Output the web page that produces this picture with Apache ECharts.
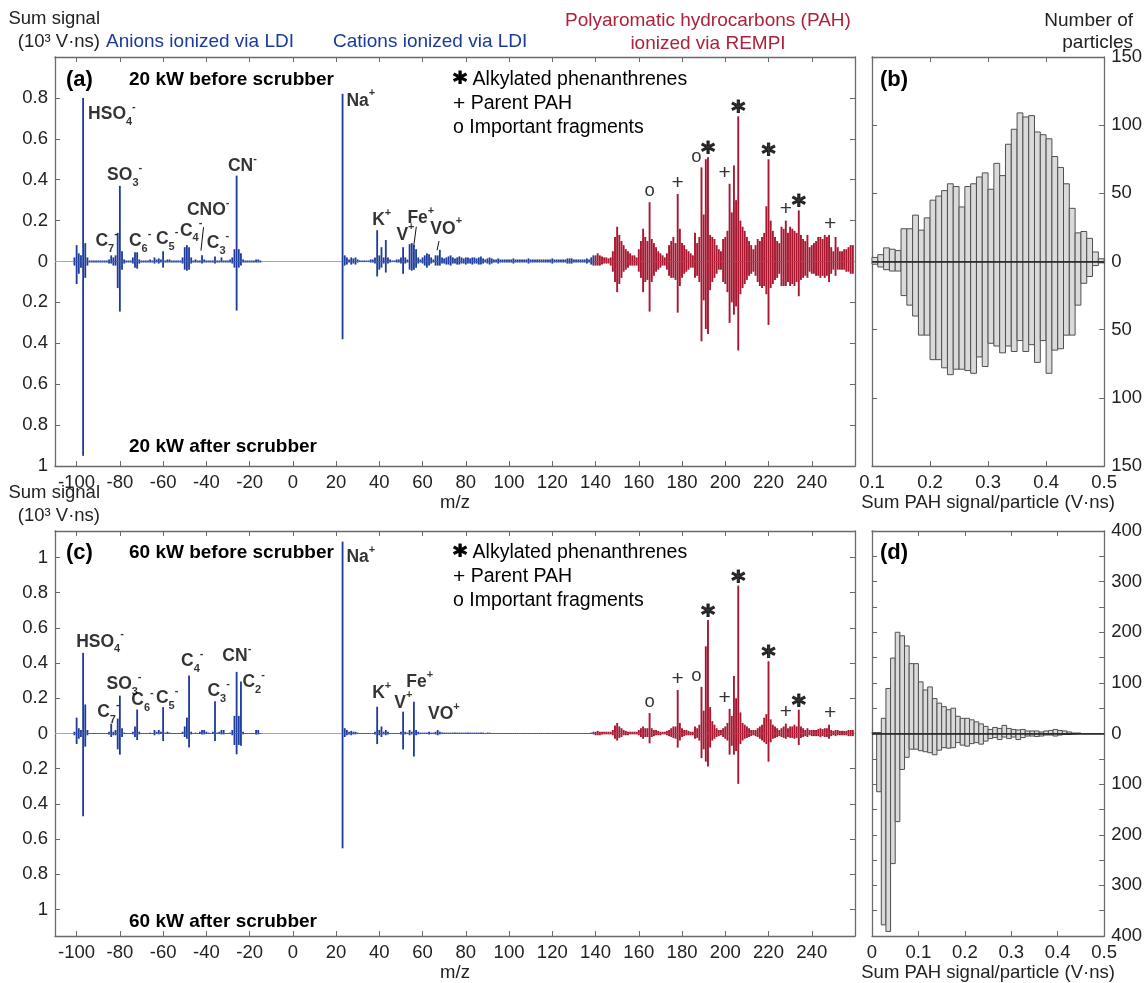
<!DOCTYPE html>
<html>
<head>
<meta charset="utf-8">
<script src="https://cdn.jsdelivr.net/npm/echarts@6/dist/echarts.min.js"></script>
<style>
  html, body { margin: 0; padding: 0; background: #fff; }
  #chart { width: 1145px; height: 983px; }
</style>
</head>
<body>
<div id="chart"></div>
<script>
// ---------------------------------------------------------------------------
// Mass spectra: sum signal (10^3 V·ns) per integer m/z.
// Anions are plotted at negative m/z. "TOP" = before scrubber, "BOT" = after.
// ---------------------------------------------------------------------------
const ANION_FIRST_MZ = -101;   // arrays below run from m/z -101 to -15
const CATION_FIRST_MZ = 23;    // arrays below run from m/z 23 to 139
const PAH_FIRST_MZ = 140;      // arrays below run from m/z 140 to 259

// 20 kW
const A_TOP_ANION = [
  0.02, 0.08, 0.04, 0.03, 0.80, 0.09, 0.02, 0.005, 0.005, 0.005,
  0.005, 0.005, 0.005, 0.005, 0.005, 0.005, 0.01, 0.03, 0.02, 0.03,
  0.14, 0.37, 0.05, 0.01, 0.005, 0.005, 0.005, 0.02, 0.045, 0.045,
  0.01, 0.005, 0.005, 0.005, 0.005, 0.01, 0.005, 0.02, 0.01, 0.015,
  0.01, 0.05, 0.005, 0.01, 0.01, 0.005, 0.005, 0.005, 0.005, 0.005,
  0.02, 0.07, 0.08, 0.07, 0.02, 0.005, 0.01, 0.005, 0.005, 0.03,
  0.01, 0.005, 0.005, 0.005, 0.005, 0.025, 0.005, 0.005, 0.02, 0.005,
  0.005, 0.005, 0.01, 0.02, 0.06, 0.42, 0.06, 0.04, 0.01, 0.005,
  0.005, 0.005, 0.005, 0.005, 0.01, 0.01, 0.005
];
const A_BOT_ANION = [
  0.02, 0.11, 0.06, 0.03, 0.95, 0.08, 0.02, 0.005, 0.005, 0.005,
  0.005, 0.005, 0.005, 0.005, 0.005, 0.005, 0.01, 0.01, 0.02, 0.02,
  0.13, 0.245, 0.04, 0.01, 0.005, 0.005, 0.005, 0.01, 0.03, 0.035,
  0.01, 0.005, 0.005, 0.005, 0.005, 0.005, 0.005, 0.01, 0.005, 0.01,
  0.005, 0.03, 0.005, 0.005, 0.005, 0.005, 0.005, 0.005, 0.005, 0.005,
  0.01, 0.04, 0.045, 0.04, 0.01, 0.005, 0.005, 0.005, 0.005, 0.01,
  0.005, 0.005, 0.005, 0.005, 0.005, 0.01, 0.005, 0.005, 0.005, 0.005,
  0.005, 0.005, 0.005, 0.01, 0.03, 0.24, 0.03, 0.02, 0.005, 0.005,
  0.005, 0.005, 0.005, 0.005, 0.005, 0.005, 0.005
];
const A_TOP_CATION = [
  0.82, 0.03, 0.02, 0.01, 0.02, 0.015, 0.02, 0.01, 0.005, 0.005,
  0.005, 0.005, 0.005, 0.01, 0.01, 0.02, 0.153, 0.03, 0.07, 0.02,
  0.105, 0.02, 0.01, 0.005, 0.005, 0.01, 0.01, 0.02, 0.07, 0.02,
  0.01, 0.085, 0.09, 0.08, 0.06, 0.02, 0.01, 0.02, 0.03, 0.04,
  0.035, 0.02, 0.01, 0.03, 0.03, 0.057, 0.02, 0.015, 0.02, 0.025,
  0.03, 0.02, 0.015, 0.02, 0.025, 0.02, 0.015, 0.02, 0.02, 0.015,
  0.02, 0.02, 0.015, 0.02, 0.025, 0.015, 0.01, 0.015, 0.02, 0.015,
  0.01, 0.01, 0.015, 0.01, 0.01, 0.01, 0.01, 0.01, 0.01, 0.015,
  0.01, 0.01, 0.01, 0.01, 0.01, 0.01, 0.015, 0.01, 0.01, 0.01,
  0.01, 0.01, 0.01, 0.01, 0.01, 0.01, 0.01, 0.015, 0.01, 0.01,
  0.01, 0.01, 0.01, 0.01, 0.015, 0.015, 0.015, 0.01, 0.01, 0.01,
  0.01, 0.01, 0.01, 0.015, 0.01, 0.02, 0.03
];
const A_BOT_CATION = [
  0.38, 0.02, 0.015, 0.005, 0.015, 0.01, 0.015, 0.005, 0.003, 0.003,
  0.003, 0.003, 0.003, 0.005, 0.005, 0.01, 0.073, 0.04, 0.03, 0.01,
  0.054, 0.01, 0.005, 0.003, 0.003, 0.005, 0.005, 0.01, 0.06, 0.01,
  0.005, 0.04, 0.045, 0.04, 0.03, 0.01, 0.005, 0.01, 0.02, 0.03,
  0.02, 0.01, 0.005, 0.02, 0.02, 0.02, 0.01, 0.01, 0.015, 0.015,
  0.02, 0.01, 0.01, 0.015, 0.015, 0.01, 0.01, 0.015, 0.01, 0.01,
  0.015, 0.01, 0.01, 0.015, 0.015, 0.01, 0.005, 0.01, 0.015, 0.01,
  0.005, 0.005, 0.01, 0.005, 0.005, 0.005, 0.005, 0.005, 0.005, 0.01,
  0.005, 0.005, 0.005, 0.005, 0.005, 0.005, 0.01, 0.005, 0.005, 0.005,
  0.005, 0.005, 0.005, 0.005, 0.005, 0.005, 0.005, 0.01, 0.005, 0.005,
  0.005, 0.005, 0.005, 0.005, 0.01, 0.01, 0.01, 0.005, 0.005, 0.005,
  0.005, 0.005, 0.005, 0.01, 0.005, 0.015, 0.02
];
const A_TOP_PAH = [
  0.03, 0.04, 0.03, 0.025, 0.02, 0.02, 0.015, 0.02, 0.05, 0.12,
  0.17, 0.13, 0.10, 0.08, 0.06, 0.05, 0.04, 0.03, 0.03, 0.02,
  0.06, 0.10, 0.16, 0.12, 0.10, 0.29, 0.11, 0.09, 0.07, 0.05,
  0.04, 0.03, 0.02, 0.04, 0.08, 0.10, 0.12, 0.09, 0.33, 0.16,
  0.09, 0.08, 0.06, 0.05, 0.04, 0.03, 0.14, 0.09, 0.12, 0.46,
  0.23, 0.50, 0.51, 0.13, 0.12, 0.11, 0.08, 0.06, 0.05, 0.11,
  0.12, 0.15, 0.38, 0.24, 0.47, 0.30, 0.71, 0.20, 0.17, 0.15,
  0.12, 0.10, 0.08, 0.06, 0.08, 0.11, 0.10, 0.12, 0.14, 0.27,
  0.50, 0.20, 0.15, 0.12, 0.10, 0.09, 0.17, 0.16, 0.20, 0.14,
  0.17, 0.16, 0.15, 0.14, 0.25, 0.13, 0.11, 0.10, 0.13, 0.07,
  0.08, 0.09, 0.10, 0.12, 0.12, 0.11, 0.13, 0.12, 0.13, 0.07,
  0.05, 0.12, 0.07, 0.05, 0.05, 0.06, 0.06, 0.07, 0.08, 0.08
];
const A_BOT_PAH = [
  0.02, 0.02, 0.02, 0.015, 0.01, 0.01, 0.01, 0.02, 0.05, 0.10,
  0.15, 0.11, 0.08, 0.05, 0.04, 0.03, 0.02, 0.02, 0.02, 0.02,
  0.05, 0.08, 0.15, 0.10, 0.09, 0.245, 0.10, 0.07, 0.05, 0.04,
  0.03, 0.02, 0.02, 0.04, 0.07, 0.08, 0.08, 0.09, 0.25, 0.12,
  0.08, 0.06, 0.05, 0.04, 0.03, 0.03, 0.08, 0.07, 0.10, 0.39,
  0.19, 0.33, 0.355, 0.14, 0.10, 0.08, 0.06, 0.04, 0.04, 0.10,
  0.11, 0.15, 0.30, 0.20, 0.26, 0.22, 0.435, 0.16, 0.13, 0.11,
  0.09, 0.07, 0.06, 0.05, 0.07, 0.10, 0.12, 0.13, 0.12, 0.16,
  0.31, 0.13, 0.11, 0.09, 0.08, 0.06, 0.12, 0.12, 0.12, 0.10,
  0.12, 0.11, 0.12, 0.10, 0.17, 0.09, 0.08, 0.07, 0.08, 0.05,
  0.06, 0.06, 0.07, 0.07, 0.08, 0.07, 0.08, 0.07, 0.10, 0.06,
  0.04, 0.07, 0.04, 0.04, 0.04, 0.04, 0.05, 0.05, 0.06, 0.06
];

// 60 kW
const C_TOP_ANION = [
  0.01, 0.09, 0.03, 0.02, 0.458, 0.165, 0.02, 0.003, 0.003, 0.003,
  0.003, 0.003, 0.003, 0.003, 0.003, 0.003, 0.01, 0.056, 0.01, 0.02,
  0.085, 0.215, 0.03, 0.005, 0.003, 0.003, 0.003, 0.01, 0.04, 0.136,
  0.01, 0.003, 0.003, 0.003, 0.003, 0.005, 0.003, 0.02, 0.01, 0.02,
  0.01, 0.15, 0.005, 0.01, 0.005, 0.003, 0.003, 0.003, 0.003, 0.003,
  0.01, 0.04, 0.09, 0.33, 0.01, 0.003, 0.005, 0.003, 0.01, 0.02,
  0.02, 0.01, 0.005, 0.003, 0.01, 0.183, 0.005, 0.01, 0.02, 0.02,
  0.003, 0.003, 0.005, 0.02, 0.10, 0.35, 0.10, 0.295, 0.01, 0.003,
  0.003, 0.003, 0.003, 0.003, 0.02, 0.02, 0.003
];
const C_BOT_ANION = [
  0.01, 0.06, 0.03, 0.02, 0.47, 0.075, 0.01, 0.003, 0.003, 0.003,
  0.003, 0.003, 0.003, 0.003, 0.003, 0.003, 0.005, 0.02, 0.01, 0.01,
  0.09, 0.12, 0.02, 0.003, 0.003, 0.003, 0.003, 0.005, 0.02, 0.037,
  0.005, 0.003, 0.003, 0.003, 0.003, 0.003, 0.003, 0.01, 0.003, 0.005,
  0.003, 0.043, 0.003, 0.003, 0.003, 0.003, 0.003, 0.003, 0.003, 0.003,
  0.003, 0.02, 0.03, 0.08, 0.005, 0.003, 0.003, 0.003, 0.003, 0.005,
  0.005, 0.003, 0.003, 0.003, 0.003, 0.043, 0.003, 0.003, 0.005, 0.005,
  0.003, 0.003, 0.003, 0.01, 0.065, 0.118, 0.065, 0.07, 0.005, 0.003,
  0.003, 0.003, 0.003, 0.003, 0.005, 0.005, 0.003
];
const C_TOP_CATION = [
  1.09, 0.03, 0.02, 0.01, 0.015, 0.01, 0.01, 0.005, 0.003, 0.003,
  0.003, 0.003, 0.003, 0.003, 0.003, 0.01, 0.152, 0.02, 0.04, 0.01,
  0.02, 0.01, 0.003, 0.003, 0.003, 0.003, 0.003, 0.01, 0.124, 0.01,
  0.005, 0.02, 0.01, 0.18, 0.02, 0.01, 0.005, 0.005, 0.005, 0.005,
  0.01, 0.005, 0.005, 0.01, 0.02, 0.01, 0.005, 0.005, 0.005, 0.005,
  0.005, 0.005, 0.005, 0.005, 0.005, 0.005, 0.005, 0.005, 0.005, 0.005,
  0.005, 0.005, 0.005, 0.005, 0.005, 0.005, 0.003, 0.005, 0.005, 0.003,
  0.003, 0.003, 0.003, 0.003, 0.003, 0.003, 0.003, 0.003, 0.003, 0.003,
  0.003, 0.003, 0.003, 0.003, 0.003, 0.003, 0.003, 0.003, 0.003, 0.003,
  0.003, 0.003, 0.003, 0.003, 0.003, 0.003, 0.003, 0.003, 0.003, 0.003,
  0.003, 0.003, 0.003, 0.003, 0.003, 0.003, 0.003, 0.003, 0.003, 0.003,
  0.003, 0.003, 0.003, 0.003, 0.003, 0.005, 0.01
];
const C_BOT_CATION = [
  0.652, 0.02, 0.01, 0.005, 0.01, 0.005, 0.005, 0.003, 0.003, 0.003,
  0.003, 0.003, 0.003, 0.003, 0.003, 0.005, 0.06, 0.01, 0.02, 0.005,
  0.01, 0.005, 0.003, 0.003, 0.003, 0.003, 0.003, 0.005, 0.09, 0.005,
  0.003, 0.01, 0.005, 0.13, 0.01, 0.005, 0.003, 0.003, 0.003, 0.003,
  0.005, 0.003, 0.003, 0.005, 0.01, 0.005, 0.003, 0.003, 0.003, 0.003,
  0.003, 0.003, 0.003, 0.003, 0.003, 0.003, 0.003, 0.003, 0.003, 0.003,
  0.003, 0.003, 0.003, 0.003, 0.003, 0.003, 0.003, 0.003, 0.003, 0.003,
  0.003, 0.003, 0.003, 0.003, 0.003, 0.003, 0.003, 0.003, 0.003, 0.003,
  0.003, 0.003, 0.003, 0.003, 0.003, 0.003, 0.003, 0.003, 0.003, 0.003,
  0.003, 0.003, 0.003, 0.003, 0.003, 0.003, 0.003, 0.003, 0.003, 0.003,
  0.003, 0.003, 0.003, 0.003, 0.003, 0.003, 0.003, 0.003, 0.003, 0.003,
  0.003, 0.003, 0.003, 0.003, 0.003, 0.003, 0.005
];
const C_TOP_PAH = [
  0.01, 0.015, 0.01, 0.01, 0.01, 0.01, 0.01, 0.01, 0.02, 0.045,
  0.06, 0.04, 0.03, 0.02, 0.015, 0.01, 0.01, 0.01, 0.01, 0.01,
  0.02, 0.03, 0.04, 0.03, 0.03, 0.116, 0.03, 0.02, 0.02, 0.015,
  0.01, 0.01, 0.01, 0.015, 0.02, 0.03, 0.04, 0.04, 0.247, 0.06,
  0.03, 0.02, 0.02, 0.015, 0.01, 0.01, 0.04, 0.03, 0.05, 0.265,
  0.13, 0.495, 0.645, 0.15, 0.07, 0.05, 0.03, 0.02, 0.02, 0.03,
  0.04, 0.06, 0.14, 0.10, 0.327, 0.20, 0.84, 0.12, 0.06, 0.05,
  0.04, 0.03, 0.02, 0.02, 0.02, 0.03, 0.04, 0.05, 0.09, 0.11,
  0.41, 0.08, 0.05, 0.04, 0.03, 0.02, 0.03, 0.04, 0.056, 0.03,
  0.04, 0.04, 0.05, 0.04, 0.135, 0.04, 0.03, 0.02, 0.03, 0.02,
  0.02, 0.02, 0.02, 0.025, 0.03, 0.025, 0.03, 0.03, 0.05, 0.02,
  0.015, 0.02, 0.02, 0.015, 0.015, 0.015, 0.015, 0.02, 0.02, 0.02
];
const C_BOT_PAH = [
  0.01, 0.01, 0.01, 0.005, 0.005, 0.005, 0.005, 0.005, 0.01, 0.03,
  0.04, 0.025, 0.02, 0.01, 0.01, 0.01, 0.005, 0.005, 0.005, 0.005,
  0.01, 0.02, 0.03, 0.02, 0.02, 0.056, 0.02, 0.015, 0.01, 0.01,
  0.01, 0.005, 0.005, 0.01, 0.015, 0.02, 0.025, 0.03, 0.08, 0.04,
  0.02, 0.015, 0.01, 0.01, 0.01, 0.01, 0.03, 0.025, 0.04, 0.14,
  0.09, 0.16, 0.187, 0.08, 0.04, 0.03, 0.02, 0.015, 0.01, 0.02,
  0.03, 0.04, 0.12, 0.07, 0.12, 0.10, 0.286, 0.06, 0.04, 0.03,
  0.025, 0.02, 0.015, 0.01, 0.015, 0.02, 0.03, 0.04, 0.05, 0.06,
  0.16, 0.05, 0.03, 0.025, 0.02, 0.015, 0.02, 0.025, 0.03, 0.02,
  0.025, 0.025, 0.03, 0.025, 0.065, 0.025, 0.02, 0.015, 0.02, 0.01,
  0.015, 0.015, 0.015, 0.015, 0.02, 0.015, 0.02, 0.02, 0.03, 0.015,
  0.01, 0.015, 0.01, 0.01, 0.01, 0.01, 0.01, 0.015, 0.015, 0.015
];

// ---------------------------------------------------------------------------
// Histograms: number of particles per 0.01 V·ns bin of sum PAH signal.
// ---------------------------------------------------------------------------
const HIST_BIN = 0.01;
const B_FIRST_EDGE = 0.10;
const B_TOP = [3, 5, 10, 9, 8, 24, 24, 34, 23, 32, 45, 48, 52, 57, 55, 40, 55, 57, 62, 65,
               53, 72, 63, 86, 97, 109, 106, 107, 95, 93, 90, 77, 69, 57, 39, 21, 22, 17, 7, 2];
const B_BOT = [2, 4, 6, 7, 7, 25, 32, 40, 54, 54, 72, 72, 78, 83, 79, 79, 80, 82, 70, 77,
               60, 62, 67, 62, 66, 58, 66, 61, 74, 58, 82, 65, 64, 54, 54, 32, 16, 11, 3, 1];
const D_FIRST_EDGE = 0.00;
const D_TOP = [2, 2, 30, 89, 149, 200, 193, 173, 138, 138, 102, 86, 92, 69, 60, 53, 47, 50, 34, 30,
               30, 27, 23, 19, 14, 8, 12, 10, 16, 10, 8, 7, 8, 5, 5, 5, 3, 5, 6, 8,
               6, 5, 3, 1, 1, 0, 0, 0, 0, 0];
const D_BOT = [0, 115, 378, 391, 257, 174, 71, 47, 31, 31, 34, 36, 38, 42, 33, 28, 29, 28, 18, 23,
               25, 20, 18, 21, 15, 10, 8, 12, 7, 10, 7, 12, 8, 5, 5, 6, 5, 3, 3, 5,
               3, 2, 2, 1, 0, 0, 0, 0, 0, 0];

// Tick labels
const MZ_TICKS = [-100, -80, -60, -40, -20, 0, 20, 40, 60, 80, 100, 120, 140, 160, 180, 200, 220, 240];
const SIGNAL_TICKS_C = [-1, -0.8, -0.6, -0.4, -0.2, 0, 0.2, 0.4, 0.6, 0.8, 1];

// Peak assignments: [m/z, symbol, horizontal nudge in px]
const PAH_MARKS = [[165, 'o', 0], [178, '+', 0], [189, 'o', -5], [192, '*', 0], [202, '+', -5],
                   [206, '*', 0], [220, '*', 0], [228, '+', 0], [234, '*', 0], [248, '+', 1]];

// Ion labels: [m/z, signal at label centre, rich text]
const ION_LABELS_A = [
  [-94.7, 0.72, '{m|HSO}{d|4}{u|-}'], [-85.9, 0.42, '{m|SO}{d|3}{u|-}'],
  [-91.3, 0.10, '{m|C}{d|7}{u|-}'], [-75.8, 0.10, '{m|C}{d|6}{u|-}'],
  [-63.3, 0.11, '{m|C}{d|5}{u|-}'], [-52.2, 0.15, '{m|C}{d|4}{u|-}'],
  [-49.0, 0.25, '{m|CNO}{u|-}'], [-39.8, 0.09, '{m|C}{d|3}{u|-}'],
  [-30.0, 0.467, '{m|CN}{u|-}'], [24.8, 0.785, '{m|Na}{u|+}'],
  [36.7, 0.20, '{m|K}{u|+}'], [47.9, 0.13, '{m|V}{u|+}'],
  [53.0, 0.21, '{m|Fe}{u|+}'], [63.6, 0.16, '{m|VO}{u|+}']
];
const ION_LABELS_C = [
  [-100.2, 0.52, '{m|HSO}{d|4}{u|-}'], [-90.5, 0.12, '{m|C}{d|7}{u|-}'],
  [-86.2, 0.28, '{m|SO}{d|3}{u|-}'], [-74.7, 0.19, '{m|C}{d|6}{u|-}'],
  [-63.3, 0.20, '{m|C}{d|5}{u|-}'], [-51.7, 0.41, '{m|C}{d|4}{u|-}'],
  [-39.5, 0.24, '{m|C}{d|3}{u|-}'], [-32.6, 0.44, '{m|CN}{u|-}'],
  [-23.3, 0.29, '{m|C}{d|2}{u|-}'], [24.8, 1.0, '{m|Na}{u|+}'],
  [36.7, 0.23, '{m|K}{u|+}'], [46.9, 0.175, '{m|V}{u|+}'],
  [52.5, 0.29, '{m|Fe}{u|+}'], [62.5, 0.107, '{m|VO}{u|+}']
];
// Leader lines from labels to their peaks: [m/z1, s1, m/z2, s2]
const LEADERS_A = [[-41.3, 0.168, -42.5, 0.053], [57.1, 0.17, 55.9, 0.073], [67.6, 0.10, 66.7, 0.055]];

// ---------------------------------------------------------------------------
const F = "'Liberation Sans', Arial, Helvetica, sans-serif";
const BLUE = '#1b3a9c';
const RED = '#a8162f';
const AXIS = '#6a6a6a';
const TXT = '#222';
const FS = 18.5;
const HFS = 19;

function sticks(first, values, sign) {
  return values.map((v, i) => [first + i, sign * v]);
}
function histBins(firstEdge, counts, sign) {
  return counts.map((c, i) => [firstEdge + i * HIST_BIN, firstEdge + (i + 1) * HIST_BIN, sign * c]);
}
function fmtAbs(v) {
  const a = Math.abs(v);
  return a < 1e-9 ? '0' : String(+a.toFixed(2));
}

const specA_blue = [].concat(
  sticks(ANION_FIRST_MZ, A_TOP_ANION, 1), sticks(ANION_FIRST_MZ, A_BOT_ANION, -1),
  sticks(CATION_FIRST_MZ, A_TOP_CATION, 1), sticks(CATION_FIRST_MZ, A_BOT_CATION, -1));
const specA_red = [].concat(sticks(PAH_FIRST_MZ, A_TOP_PAH, 1), sticks(PAH_FIRST_MZ, A_BOT_PAH, -1));
const specC_blue = [].concat(
  sticks(ANION_FIRST_MZ, C_TOP_ANION, 1), sticks(ANION_FIRST_MZ, C_BOT_ANION, -1),
  sticks(CATION_FIRST_MZ, C_TOP_CATION, 1), sticks(CATION_FIRST_MZ, C_BOT_CATION, -1));
const specC_red = [].concat(sticks(PAH_FIRST_MZ, C_TOP_PAH, 1), sticks(PAH_FIRST_MZ, C_BOT_PAH, -1));

function makeStick(width) {
  return function (params, api) {
    const x = api.value(0), v = api.value(1);
    const p0 = api.coord([x, 0]), p1 = api.coord([x, v]);
    return { type: 'line', shape: { x1: p0[0], y1: p0[1], x2: p1[0], y2: p1[1] },
             style: { stroke: api.visual('color'), lineWidth: width } };
  };
}
function histItem(params, api) {
  const a = api.coord([api.value(0), 0]);
  const b = api.coord([api.value(1), api.value(2)]);
  return { type: 'rect',
           shape: { x: a[0], y: Math.min(a[1], b[1]), width: b[0] - a[0], height: Math.abs(b[1] - a[1]) },
           style: { fill: '#dadada', stroke: '#505050', lineWidth: 1 } };
}
function leaderItem(params, api) {
  const p0 = api.coord([api.value(0), api.value(1)]);
  const p1 = api.coord([api.value(2), api.value(3)]);
  return { type: 'line', shape: { x1: p0[0], y1: p0[1], x2: p1[0], y2: p1[1] },
           style: { stroke: '#111', lineWidth: 1 } };
}

const axisLine = { show: true, onZero: false, lineStyle: { color: AXIS, width: 1.3 } };
const tickIn = { show: true, inside: true, length: 5, lineStyle: { color: AXIS, width: 1 } };
const labStyle = { color: TXT, fontSize: FS, fontFamily: F };
const nameStyle = { color: TXT, fontSize: FS, fontFamily: F };

function xAxisPair(grid, min, max, ticks, interval, fmt, name) {
  const tick = Object.assign({}, tickIn, ticks ? { customValues: ticks } : {});
  const bottom = {
    gridIndex: grid, type: 'value', min, max, position: 'bottom',
    axisLine, axisTick: tick, splitLine: { show: false },
    axisLabel: Object.assign({}, labStyle, { margin: 7, formatter: fmt }, ticks ? { customValues: ticks } : {}),
    name, nameLocation: 'middle', nameGap: 27, nameTextStyle: nameStyle
  };
  const top = {
    gridIndex: grid, type: 'value', min, max, position: 'top',
    axisLine, axisTick: tick, splitLine: { show: false }, axisLabel: { show: false }
  };
  if (interval) { bottom.interval = interval; top.interval = interval; }
  return [bottom, top];
}
function yAxisPair(grid, min, max, ticks, interval, fmt, labelSide) {
  const tick = Object.assign({}, tickIn, ticks ? { customValues: ticks } : {});
  const mk = (pos) => {
    const ax = {
      gridIndex: grid, type: 'value', min, max, position: pos,
      axisLine, axisTick: tick, splitLine: { show: false },
      axisLabel: pos === labelSide
        ? Object.assign({}, labStyle, { margin: 7, formatter: fmt }, ticks ? { customValues: ticks } : {})
        : { show: false }
    };
    if (interval) ax.interval = interval;
    return ax;
  };
  return [mk('left'), mk('right')];
}

const xAxes = [].concat(
  xAxisPair(0, -110, 260, MZ_TICKS, null, v => String(v), 'm/z'),
  xAxisPair(1, 0.1, 0.5, null, 0.1, v => (+v.toFixed(1)).toString(), 'Sum PAH signal/particle (V·ns)'),
  xAxisPair(2, -110, 260, MZ_TICKS, null, v => String(v), 'm/z'),
  xAxisPair(3, 0, 0.5, null, 0.1, v => (+v.toFixed(1)).toString(), 'Sum PAH signal/particle (V·ns)')
);
const yAxes = [].concat(
  yAxisPair(0, -1, 1, null, 0.2, v => (v > 0.99 ? '' : fmtAbs(v)), 'left'),
  yAxisPair(1, -150, 150, null, 50, v => String(Math.abs(Math.round(v))), 'right'),
  yAxisPair(2, -1.15, 1.15, SIGNAL_TICKS_C, null, v => fmtAbs(v), 'left'),
  yAxisPair(3, -400, 400, null, 50, v => (Math.round(v) % 100 === 0 ? String(Math.abs(Math.round(v))) : ''), 'right')
);

const zeroGray = { silent: true, symbol: 'none', z: 1, label: { show: false },
                   lineStyle: { color: '#a8a8a8', width: 1, type: 'solid' }, data: [{ yAxis: 0 }] };
const zeroDark = { silent: true, symbol: 'none', z: 10, label: { show: false },
                   lineStyle: { color: '#222', width: 1.6, type: 'solid' }, data: [{ yAxis: 0 }] };

const INK = '#000';
const richIon = {
  m: { fontSize: 17.5, fontWeight: 'bold', fontFamily: F, color: INK, lineHeight: 26 },
  d: { fontSize: 11, fontWeight: 'bold', fontFamily: F, color: INK, lineHeight: 26, verticalAlign: 'bottom' },
  u: { fontSize: 11, fontWeight: 'bold', fontFamily: F, color: INK, lineHeight: 26, verticalAlign: 'top' }
};
function ionLabelSeries(axisIdx, labels) {
  return {
    type: 'scatter', xAxisIndex: axisIdx, yAxisIndex: axisIdx, symbolSize: 0, silent: true, z: 20,
    itemStyle: { color: 'transparent' },
    data: labels.map(l => ({ value: [l[0], l[1]], label: { formatter: l[2] } })),
    label: { show: true, position: 'right', distance: 0, color: INK, rich: richIon }
  };
}
const symStyle = {
  '*': { fontSize: 27, fontWeight: 'bold', fontFamily: 'DejaVu Sans, ' + F, color: INK,
         textBorderColor: INK, textBorderWidth: 1 },
  '+': { fontSize: 21, fontFamily: F, color: INK },
  'o': { fontSize: 18.5, fontFamily: F, color: INK }
};
function pahMarkSeries(axisIdx, topValues) {
  return {
    type: 'scatter', xAxisIndex: axisIdx, yAxisIndex: axisIdx, symbolSize: 0, silent: true, z: 20,
    itemStyle: { color: 'transparent' },
    data: PAH_MARKS.map(m => ({
      value: [m[0], topValues[m[0] - PAH_FIRST_MZ]],
      label: Object.assign({ formatter: m[1], offset: [m[2], m[1] === '*' ? 8 : 0] }, symStyle[m[1]])
    })),
    label: { show: true, position: 'top', distance: 1, lineHeight: 20 }
  };
}

const series = [
  // (a)
  { type: 'custom', xAxisIndex: 0, yAxisIndex: 0, renderItem: makeStick(1.8), data: specA_blue,
    itemStyle: { color: BLUE }, z: 2, silent: true, markLine: zeroGray },
  { type: 'custom', xAxisIndex: 0, yAxisIndex: 0, renderItem: makeStick(1.9), data: specA_red,
    itemStyle: { color: RED }, z: 2, silent: true },
  { type: 'custom', xAxisIndex: 0, yAxisIndex: 0, renderItem: leaderItem, data: LEADERS_A, z: 3, silent: true },
  ionLabelSeries(0, ION_LABELS_A),
  pahMarkSeries(0, A_TOP_PAH),
  // (b)
  { type: 'custom', xAxisIndex: 2, yAxisIndex: 2, renderItem: histItem,
    data: histBins(B_FIRST_EDGE, B_TOP, 1).concat(histBins(B_FIRST_EDGE, B_BOT, -1)),
    encode: { x: [0, 1], y: 2 }, z: 2, silent: true, markLine: zeroDark },
  // (c)
  { type: 'custom', xAxisIndex: 4, yAxisIndex: 4, renderItem: makeStick(1.8), data: specC_blue,
    itemStyle: { color: BLUE }, z: 2, silent: true, markLine: zeroGray },
  { type: 'custom', xAxisIndex: 4, yAxisIndex: 4, renderItem: makeStick(1.9), data: specC_red,
    itemStyle: { color: RED }, z: 2, silent: true },
  ionLabelSeries(4, ION_LABELS_C),
  pahMarkSeries(4, C_TOP_PAH),
  // (d)
  { type: 'custom', xAxisIndex: 6, yAxisIndex: 6, renderItem: histItem,
    data: histBins(D_FIRST_EDGE, D_TOP, 1).concat(histBins(D_FIRST_EDGE, D_BOT, -1)),
    encode: { x: [0, 1], y: 2 }, z: 2, silent: true, markLine: zeroDark }
];

// Free-standing text: headers, panel tags, conditions, symbol key
function txt(x, y, text, extra) {
  return { type: 'text', x, y, silent: true, z: 50,
    style: Object.assign({ text, fill: TXT, fontSize: HFS, fontFamily: F,
      align: 'left', verticalAlign: 'middle', textAlign: 'left', textVerticalAlign: 'middle' }, extra || {}) };
}
const bold = { fontWeight: 'bold', fill: INK, fontSize: 19 };
const tag = { fontWeight: 'bold', fill: INK, fontSize: 22 };
const keyRich = {
  s: { fontSize: 27, fontWeight: 'bold', fontFamily: 'DejaVu Sans, ' + F, fill: INK, color: INK,
       stroke: INK, lineWidth: 1, padding: [8, 0, 0, 0] },
  p: { fontSize: 21, fontFamily: F, fill: INK, color: INK },
  t: { fontSize: 19.5, fontFamily: F, fill: INK, color: INK }
};
function key(x, y) {
  return [
    txt(x, y, '{s|*}{t| Alkylated phenanthrenes}', { rich: keyRich }),
    txt(x, y + 24, '{p|+}{t| Parent PAH}', { rich: keyRich }),
    txt(x, y + 48, '{t|o Important fragments}', { rich: keyRich })
  ];
}
const right = { align: 'right', textAlign: 'right' };
const center = { align: 'center', textAlign: 'center' };
const unitLine = Object.assign({ fontSize: 18.5 }, right);

const graphic = [
  txt(100, 19, 'Sum signal', unitLine),
  txt(100, 42, '(10³ V·ns)', unitLine),
  txt(106, 42, 'Anions ionized via LDI', { fill: BLUE }),
  txt(333, 42, 'Cations ionized via LDI', { fill: BLUE }),
  txt(708, 21, 'Polyaromatic hydrocarbons (PAH)', Object.assign({ fill: '#b0203a' }, center)),
  txt(708, 44, 'ionized via REMPI', Object.assign({ fill: '#b0203a' }, center)),
  txt(1133, 21, 'Number of', right),
  txt(1133, 43, 'particles', right),
  txt(66, 80, '(a)', tag),
  txt(129, 80, '20 kW before scrubber', bold),
  txt(129, 447, '20 kW after scrubber', bold),
  txt(880, 80, '(b)', tag),
  txt(100, 493, 'Sum signal', unitLine),
  txt(100, 516, '(10³ V·ns)', unitLine),
  txt(66, 553, '(c)', tag),
  txt(129, 553, '60 kW before scrubber', bold),
  txt(129, 922, '60 kW after scrubber', bold),
  txt(880, 553, '(d)', tag)
].concat(key(453, 80), key(453, 553));

const chart = echarts.init(document.getElementById('chart'), null, { renderer: 'canvas' });
chart.setOption({
  animation: false,
  backgroundColor: '#fff',
  textStyle: { fontFamily: F },
  grid: [
    { left: 55, top: 57, width: 800, height: 409 },
    { left: 872, top: 57, width: 234, height: 409 },
    { left: 55, top: 531, width: 800, height: 409 },
    { left: 872, top: 531, width: 234, height: 409 }
  ],
  xAxis: xAxes,
  yAxis: yAxes,
  series,
  graphic
});
</script>
</body>
</html>
